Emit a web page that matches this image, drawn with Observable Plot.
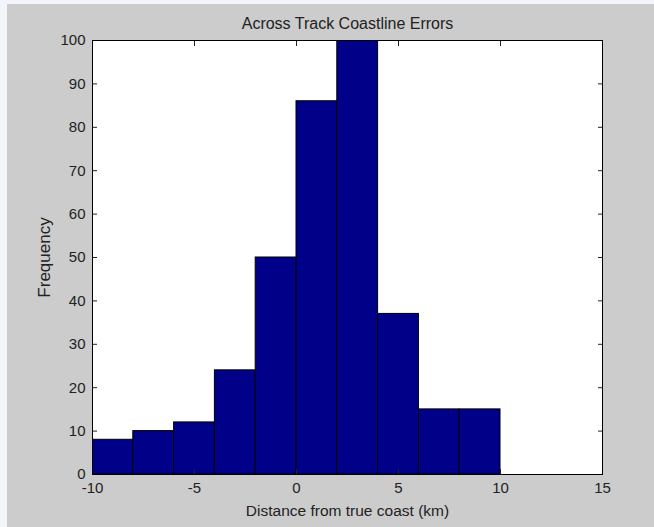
<!DOCTYPE html>
<html>
<head>
<meta charset="utf-8">
<script src="https://cdn.jsdelivr.net/npm/d3@7"></script>
<script src="https://cdn.jsdelivr.net/npm/@observablehq/plot@0.6"></script>
<style>
  html, body { margin: 0; padding: 0; background: #cccccc; }
  #wrap { position: relative; width: 654px; height: 527px; overflow: hidden; }
  #wrap svg { display: block; }
  .strip { position: absolute; background: #f2f5fa; }
</style>
</head>
<body>
<div id="wrap"></div>
<script>
const title = "Across Track Coastline Errors";
const xLabel = "Distance from true coast (km)";
const yLabel = "Frequency";
const binStart = [-10, -8, -6, -4, -2, 0, 2, 4, 6, 8];
const binEnd   = [-8, -6, -4, -2, 0, 2, 4, 6, 8, 10];
const counts   = [8, 10, 12, 24, 50, 86, 100, 37, 15, 15];
const xTicks = [-10, -5, 0, 5, 10, 15];
const yTicks = [0, 10, 20, 30, 40, 50, 60, 70, 80, 90, 100];

const bins = binStart.map((s, i) => ({x1: s, x2: binEnd[i], y: counts[i]}));

const chart = Plot.plot({
  width: 654,
  height: 527,
  marginLeft: 92,
  marginRight: 52,
  marginTop: 40,
  marginBottom: 53,
  style: {background: "#cccccc", fontFamily: "'Liberation Sans', Arial, sans-serif", fontSize: "15px", color: "#222"},
  x: {domain: [-10, 15]},
  y: {domain: [0, 100]},
  marks: [
    Plot.frame({fill: "white", stroke: null}),
    Plot.rectY(bins, {x1: "x1", x2: "x2", y: "y", fill: "#000088", stroke: "#000", strokeWidth: 1, insetLeft: 0, insetRight: 0, clip: true}),
    Plot.axisX({anchor: "bottom", ticks: xTicks, tickSize: 0, tickPadding: 8, label: null, tickFormat: d => String(d).replace("−", "-")}),
    Plot.axisX({anchor: "bottom", ticks: xTicks, tickSize: -5, text: null, label: null}),
    Plot.axisX({anchor: "top", ticks: xTicks, tickSize: -5, text: null, label: null}),
    Plot.axisY({anchor: "left", ticks: yTicks, tickSize: 0, tickPadding: 7, label: null}),
    Plot.axisY({anchor: "left", ticks: yTicks, tickSize: -5, text: null, label: null}),
    Plot.axisY({anchor: "right", ticks: yTicks, tickSize: -5, text: null, label: null}),
    Plot.frame({stroke: "#000", strokeWidth: 1}),
    Plot.text([title], {frameAnchor: "top", lineAnchor: "middle", textAnchor: "middle", dy: -17, fontSize: 16, fill: "#222"}),
    Plot.text([xLabel], {frameAnchor: "bottom", lineAnchor: "middle", textAnchor: "middle", dy: 37, fontSize: 15.5, fill: "#222"}),
    Plot.text([yLabel], {frameAnchor: "left", lineAnchor: "middle", textAnchor: "middle", dx: -48, rotate: -90, fontSize: 17, fill: "#222"})
  ]
});
const wrap = document.getElementById("wrap");
wrap.appendChild(chart);
const s1 = document.createElement("div"); s1.className = "strip";
s1.style.cssText = "left:0;top:0;width:654px;height:4px;";
const s2 = document.createElement("div"); s2.className = "strip";
s2.style.cssText = "left:0;top:0;width:7px;height:527px;";
wrap.appendChild(s1); wrap.appendChild(s2);
</script>
</body>
</html>
